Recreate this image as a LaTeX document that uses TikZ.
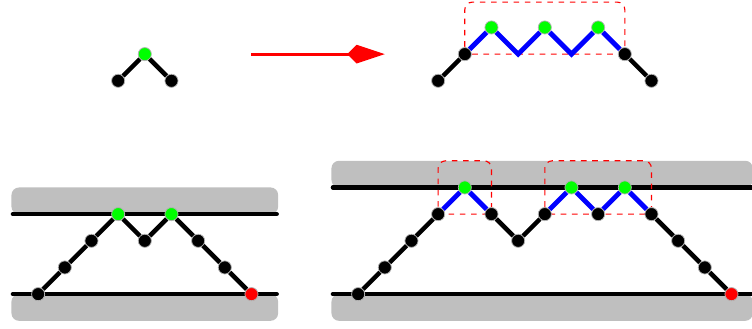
\documentclass[tikz,border=0pt]{standalone}
\usetikzlibrary{arrows.meta}
\begin{document}
\begin{tikzpicture}[x=0.5cm,y=0.5cm,
  dot/.style={circle,fill=black,draw=gray!60,line width=0.4pt,inner sep=0pt,minimum size=7pt},
  gdot/.style={dot,fill=green},
  rdot/.style={dot,fill=red},
  link/.style={black,line width=2.4pt},
  blink/.style={blue,line width=2.6pt},
  wall/.style={black,line width=2.2pt,line cap=round},
  pad/.style={fill=gray!50,rounded corners=4pt},
  hull/.style={red,dashed,line width=0.6pt,rounded corners=4pt}]
  \useasboundingbox (-1.43,-1.27) rectangle (26.77,11.03);

  % single peak
  \node[dot]  (a0) at (3,8) {};
  \node[gdot] (a1) at (4,9) {};
  \node[dot]  (a2) at (5,8) {};
  \draw[link] (a0) -- (a1) -- (a2);

  % arrow
  \coordinate (arrL) at (8,9);
  \coordinate (arrR) at (13,9);
  \draw[red,line width=1.5pt,-{Kite[length=20pt,width=10pt,inset=5pt]}] (arrL) -- (arrR);

  % peak replaced by zigzag
  \draw[hull] (16,9) rectangle (22,10.95);
  \node[dot]  (t0) at (15,8) {};
  \node[dot]  (t1) at (16,9) {};
  \node[gdot] (t2) at (17,10) {};
  \coordinate (t3) at (18,9);
  \node[gdot] (t4) at (19,10) {};
  \coordinate (t5) at (20,9);
  \node[gdot] (t6) at (21,10) {};
  \node[dot]  (t7) at (22,9) {};
  \node[dot]  (t8) at (23,8) {};
  \draw[link] (t0) -- (t1);
  \draw[blink] (t1) -- (t2) -- (t3) -- (t4) -- (t5) -- (t6) -- (t7);
  \draw[link] (t7) -- (t8);

  % short chain between walls
  \begin{scope}[shift={(0,0)}]
  \fill[pad] (-1,3) rectangle (9,4);
  \fill[pad] (-1,-1) rectangle (9,0);
  \draw[wall] (-0.95,3) -- (8.95,3);
  \draw[wall] (-0.95,0) -- (8.95,0);
  \foreach \i/\x/\y/\s in {0/0/0/dot,1/1/1/dot,2/2/2/dot,3/3/3/gdot,4/4/2/dot,
                           5/5/3/gdot,6/6/2/dot,7/7/1/dot,8/8/0/rdot}
    \node[\s] (b\i) at (\x,\y) {};
  \foreach \i [evaluate=\i as \j using int(\i+1)] in {0,...,7}
    \draw[link] (b\i) -- (b\j);
  \end{scope}

  % long chain between walls
  \begin{scope}[shift={(12,0)}]
  \fill[pad] (-1,4) rectangle (14.8,5);
  \fill[pad] (-1,-1) rectangle (14.8,0);
  \draw[wall] (-0.95,4) -- (15,4);
  \draw[wall] (-0.95,0) -- (15,0);
  \draw[hull] (3,3) rectangle (5,5);
  \draw[hull] (7,3) rectangle (11,5);
  \foreach \i/\x/\y/\s in {0/0/0/dot,1/1/1/dot,2/2/2/dot,3/3/3/dot,4/4/4/gdot,
                           5/5/3/dot,6/6/2/dot,7/7/3/dot,8/8/4/gdot,9/9/3/dot,
                           10/10/4/gdot,11/11/3/dot,12/12/2/dot,13/13/1/dot,14/14/0/rdot}
    \node[\s] (c\i) at (\x,\y) {};
  \foreach \i [evaluate=\i as \j using int(\i+1)] in {0,1,2,5,6,11,12,13}
    \draw[link] (c\i) -- (c\j);
  \foreach \i [evaluate=\i as \j using int(\i+1)] in {3,4,7,8,9,10}
    \draw[blink] (c\i) -- (c\j);
  \end{scope}
\end{tikzpicture}
\end{document}
